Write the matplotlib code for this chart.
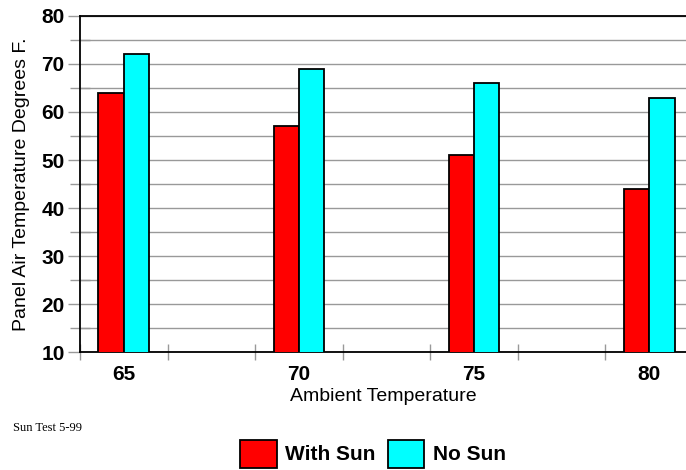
import matplotlib
matplotlib.use("Agg")
import matplotlib.pyplot as plt
import numpy as np
from matplotlib.patches import Patch
from matplotlib.ticker import MultipleLocator

plt.rcParams.update({
    "font.family": "sans-serif",
    "font.sans-serif": ["Liberation Sans", "Arial", "DejaVu Sans"],
})

categories = ["65", "70", "75", "80"]
with_sun = [64, 57, 51, 44]
no_sun = [72, 69, 66, 63]

RED = "#FF0000"
CYAN = "#00FFFF"
GRID = "#999999"

fig = plt.figure(figsize=(6.86, 4.70), dpi=100)
ax = fig.add_axes([80 / 686, 1 - 352 / 470, 606 / 686, 336 / 470])

x = np.arange(len(categories))
width = 0.145

ax.bar(x - width / 2, with_sun, width, color=RED, edgecolor="black", linewidth=1.3, zorder=3)
ax.bar(x + width / 2, no_sun, width, color=CYAN, edgecolor="black", linewidth=1.3, zorder=3)

ax.set_ylim(10, 80)
ax.set_xlim(-0.25, 3.21)
ax.yaxis.set_major_locator(MultipleLocator(10))
ax.yaxis.set_minor_locator(MultipleLocator(5))
ax.yaxis.grid(True, which="both", color=GRID, linewidth=1.0, zorder=0)
ax.xaxis.grid(False)

ax.set_xticks(x)
ax.set_xticklabels(categories, fontweight="bold", fontsize=15)
ax.set_xticks(np.arange(-0.25, 3.0, 0.5), minor=True)
ax.tick_params(axis="x", which="major", length=0, pad=9)
ax.tick_params(axis="x", which="minor", direction="inout", length=12, color=GRID, width=1.0)

ax.tick_params(axis="y", which="major", direction="out", length=9, color=GRID, width=1.0,
               labelsize=15, pad=2)
ax.tick_params(axis="y", which="minor", direction="inout", length=14, color=GRID, width=1.0)
for lbl in ax.get_yticklabels():
    lbl.set_fontweight("bold")

for side in ["left", "bottom", "top"]:
    ax.spines[side].set_color("black")
    ax.spines[side].set_linewidth(1.3)
ax.spines["right"].set_visible(False)

ax.set_ylabel("Panel Air Temperature Degrees F.", fontsize=14)
ax.yaxis.set_label_coords(-0.083, 0.5)
ax.set_xlabel("Ambient Temperature", fontsize=14, labelpad=3)

fig.text(13 / 686, 1 - 428 / 470, "Sun Test 5-99", family="Liberation Serif", fontsize=9, va="center")

handles = [Patch(facecolor=RED, edgecolor="black", linewidth=1.3, label="With Sun"),
           Patch(facecolor=CYAN, edgecolor="black", linewidth=1.3, label="No Sun")]
fig.legend(handles=handles, loc="lower center", bbox_to_anchor=(373 / 686, -0.035), ncol=2, frameon=False,
           prop={"weight": "bold", "size": 15}, handlelength=1.75, handleheight=1.7,
           columnspacing=0.6, handletextpad=0.4)

fig.savefig("out.png", dpi=100)
